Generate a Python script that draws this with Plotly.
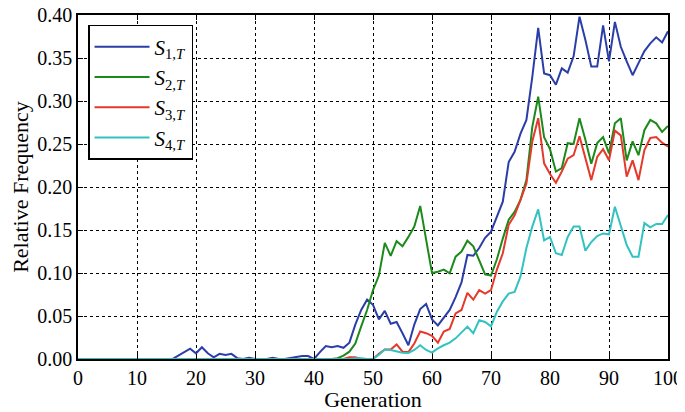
import plotly.graph_objects as go

generations = list(range(0, 101))

s1 = [0, 0, 0, 0, 0, 0, 0, 0, 0, 0,
      0, 0, 0, 0, 0, 0, 0, 0.004, 0.008, 0.012,
      0.0066, 0.0136, 0.0066, 0.002, 0.006, 0.0047, 0.006, 0.001, 0, 0.0015,
      0, 0, 0, 0.0015, 0, 0, 0.001, 0.002, 0.0035, 0.0035,
      0.0, 0.008, 0.015, 0.0136, 0.015, 0.013, 0.019, 0.040, 0.057, 0.069,
      0.063, 0.046, 0.056, 0.041, 0.043, 0.030, 0.016, 0.040, 0.058, 0.064,
      0.046, 0.039, 0.048, 0.057, 0.072, 0.089, 0.121, 0.120, 0.129, 0.141,
      0.148, 0.165, 0.183, 0.229, 0.241, 0.262, 0.278, 0.328, 0.385, 0.332,
      0.330, 0.319, 0.338, 0.333, 0.352, 0.398, 0.371, 0.340, 0.340, 0.388,
      0.346, 0.392, 0.363, 0.346, 0.330, 0.344, 0.358, 0.367, 0.374, 0.368,
      0.381]

s2 = [0, 0, 0, 0, 0, 0, 0, 0, 0, 0,
      0, 0, 0, 0, 0, 0, 0, 0, 0, 0,
      0, 0, 0, 0, 0, 0, 0, 0, 0, 0,
      0, 0, 0, 0, 0, 0, 0, 0, 0, 0,
      0, 0, 0, 0, 0.001, 0.004, 0.0085, 0.018, 0.038, 0.057,
      0.080, 0.097, 0.135, 0.120, 0.137, 0.131, 0.142, 0.154, 0.178, 0.138,
      0.100, 0.1015, 0.104, 0.0996, 0.119, 0.125, 0.1376, 0.131, 0.115, 0.0985,
      0.097, 0.116, 0.140, 0.162, 0.171, 0.185, 0.208, 0.270, 0.305, 0.258,
      0.244, 0.218, 0.222, 0.251, 0.250, 0.280, 0.255, 0.227, 0.251, 0.258,
      0.239, 0.274, 0.280, 0.231, 0.253, 0.237, 0.266, 0.278, 0.274, 0.264,
      0.271]

s3 = [0, 0, 0, 0, 0, 0, 0, 0, 0, 0,
      0, 0, 0, 0, 0, 0, 0, 0, 0, 0,
      0, 0, 0, 0, 0, 0, 0, 0, 0, 0,
      0, 0, 0, 0, 0, 0, 0, 0, 0, 0,
      0, 0, 0, 0, 0, 0, 0.002, 0.002, 0, 0,
      0, 0.006, 0.011, 0.011, 0.017, 0.0085, 0.008, 0.018, 0.032, 0.030,
      0.027, 0.019, 0.032, 0.035, 0.053, 0.057, 0.077, 0.069, 0.080, 0.076,
      0.080, 0.104, 0.123, 0.156, 0.167, 0.185, 0.204, 0.253, 0.280, 0.2275,
      0.215, 0.205, 0.218, 0.233, 0.237, 0.259, 0.235, 0.208, 0.235, 0.244,
      0.231, 0.2655, 0.260, 0.212, 0.231, 0.208, 0.243, 0.257, 0.258, 0.2515,
      0.247]

s4 = [0, 0, 0, 0, 0, 0, 0, 0, 0, 0,
      0, 0, 0, 0, 0, 0, 0, 0, 0, 0,
      0, 0, 0, 0, 0, 0, 0, 0, 0, 0,
      0, 0, 0, 0, 0, 0, 0, 0, 0, 0,
      0, 0, 0, 0, 0, 0, 0, 0.001, 0.001, 0,
      0, 0.005, 0.011, 0.0105, 0.0085, 0.0074, 0.007, 0.0105, 0.016, 0.0105,
      0.0074, 0.0124, 0.016, 0.019, 0.024, 0.0306, 0.0376, 0.030, 0.045, 0.043,
      0.038, 0.055, 0.067, 0.076, 0.078, 0.096, 0.129, 0.154, 0.174, 0.138,
      0.142, 0.123, 0.121, 0.142, 0.154, 0.154, 0.126, 0.136, 0.143, 0.146,
      0.145, 0.177, 0.154, 0.1325, 0.119, 0.119, 0.158, 0.153, 0.157, 0.157,
      0.1675]

series_names = ["<i>S</i><sub>1,<i>T</i></sub>", "<i>S</i><sub>2,<i>T</i></sub>",
                "<i>S</i><sub>3,<i>T</i></sub>", "<i>S</i><sub>4,<i>T</i></sub>"]
series_values = [s1, s2, s3, s4]
colors = ["#2b3ea8", "#1b8a1b", "#e5392b", "#33c2c2"]

x_ticks = list(range(0, 101, 10))
y_ticks = [0.00, 0.05, 0.10, 0.15, 0.20, 0.25, 0.30, 0.35, 0.40]

FONT = "Liberation Serif"

fig = go.Figure()
for i, (name, vals, col) in enumerate(zip(series_names, series_values, colors)):
    fig.add_trace(go.Scatter(
        x=generations, y=vals, mode="lines", name=name,
        line=dict(color=col, width=2), legendgroup=f"g{i}",
    ))

axis_common = dict(
    showline=True, linecolor="black", linewidth=1.5, mirror="ticks",
    ticks="inside", ticklen=5, tickwidth=1, tickcolor="black",
    showgrid=True, gridcolor="black", gridwidth=1, griddash="dot",
    zeroline=False, automargin=False, ticklabeloverflow="allow",
    tickfont=dict(family=FONT, size=20, color="black"),
)

fig.update_xaxes(range=[0, 100], tickvals=x_ticks,
                 title=dict(text="Generation", font=dict(family=FONT, size=22, color="black"), standoff=2),
                 **axis_common)
fig.update_yaxes(range=[0, 0.40], tickvals=y_ticks, tickformat=".2f",
                 title=dict(text="Relative Frequency", font=dict(family=FONT, size=22, color="black"), standoff=16),
                 **axis_common)

# the page body has an 8px margin, so the figure is drawn 8px in from the top-left corner
fig.update_layout(
    width=677, height=404,
    margin=dict(l=70, r=17, t=7, b=53),
    paper_bgcolor="white", plot_bgcolor="white",
    font=dict(family=FONT, color="black"),
    legend=dict(
        x=0.017, y=0.971, xanchor="left", yanchor="top",
        bgcolor="white", bordercolor="black", borderwidth=1.5,
        font=dict(family=FONT, size=21, color="black"),
        tracegroupgap=0, itemwidth=55,
    ),
    showlegend=True,
)

fig.write_html("out.html")
